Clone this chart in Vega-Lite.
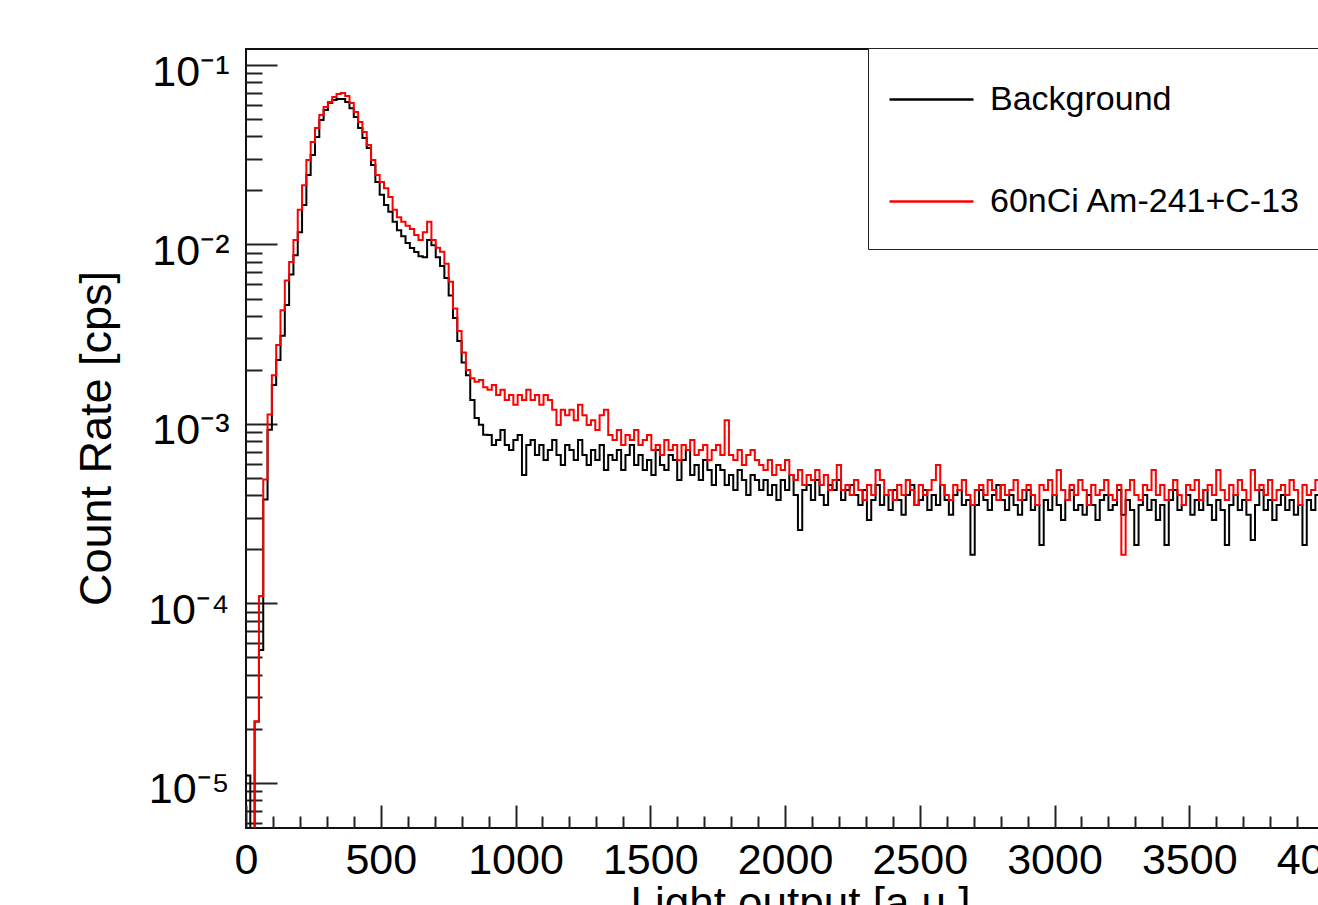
{
  "$schema": "https://vega.github.io/schema/vega-lite/v6.json",
  "width": 1078,
  "height": 779,
  "autosize": {"type": "none"},
  "padding": {"left": 246, "top": 49, "right": -6, "bottom": 77},
  "background": "white",
  "config": {
    "font": "Liberation Sans",
    "view": {"stroke": "#111111", "strokeWidth": 2},
    "axis": {
      "labelFont": "Liberation Sans", "titleFont": "Liberation Sans",
      "labelColor": "black", "titleColor": "black", "tickColor": "#222222",
      "domain": false, "grid": false, "titleFontWeight": "normal",
      "labelFontSize": 43, "titleFontSize": 44, "tickWidth": 2
    }
  },
  "data": {"values": [
{"x":0,"bg":1.1e-5,"src":1e-6},
{"x":16,"bg":1e-6,"src":1e-6},
{"x":32,"bg":2.2e-5,"src":2.2e-5},
{"x":48,"bg":5.5e-5,"src":1.1e-4},
{"x":64,"bg":3.8e-4,"src":4.9e-4},
{"x":80,"bg":9.3e-4,"src":1.13e-3},
{"x":96,"bg":1.65e-3,"src":1.87e-3},
{"x":112,"bg":2.27e-3,"src":2.75e-3},
{"x":128,"bg":3.1e-3,"src":4.3e-3},
{"x":144,"bg":4.6e-3,"src":6.3e-3},
{"x":160,"bg":6.8e-3,"src":8.0e-3},
{"x":176,"bg":8.7e-3,"src":1.06e-2},
{"x":192,"bg":1.17e-2,"src":1.56e-2},
{"x":208,"bg":1.66e-2,"src":2.14e-2},
{"x":224,"bg":2.44e-2,"src":2.96e-2},
{"x":240,"bg":3.15e-2,"src":3.73e-2},
{"x":256,"bg":3.97e-2,"src":4.45e-2},
{"x":272,"bg":4.94e-2,"src":5.27e-2},
{"x":288,"bg":5.61e-2,"src":5.84e-2},
{"x":304,"bg":6.14e-2,"src":6.22e-2},
{"x":320,"bg":6.38e-2,"src":6.63e-2},
{"x":336,"bg":6.46e-2,"src":6.89e-2},
{"x":352,"bg":6.46e-2,"src":6.98e-2},
{"x":368,"bg":6.22e-2,"src":6.72e-2},
{"x":384,"bg":5.75e-2,"src":6.14e-2},
{"x":400,"bg":5.13e-2,"src":5.47e-2},
{"x":416,"bg":4.45e-2,"src":4.81e-2},
{"x":432,"bg":3.92e-2,"src":4.23e-2},
{"x":448,"bg":3.45e-2,"src":3.58e-2},
{"x":464,"bg":2.77e-2,"src":2.96e-2},
{"x":480,"bg":2.23e-2,"src":2.44e-2},
{"x":496,"bg":1.89e-2,"src":2.23e-2},
{"x":512,"bg":1.66e-2,"src":2.06e-2},
{"x":528,"bg":1.52e-2,"src":1.84e-2},
{"x":544,"bg":1.34e-2,"src":1.56e-2},
{"x":560,"bg":1.20e-2,"src":1.42e-2},
{"x":576,"bg":1.11e-2,"src":1.34e-2},
{"x":592,"bg":1.02e-2,"src":1.27e-2},
{"x":608,"bg":9.55e-3,"src":1.22e-2},
{"x":624,"bg":9.08e-3,"src":1.13e-2},
{"x":640,"bg":8.6e-3,"src":1.06e-2},
{"x":656,"bg":8.5e-3,"src":1.17e-2},
{"x":672,"bg":1.06e-2,"src":1.34e-2},
{"x":688,"bg":9.9e-3,"src":1.06e-2},
{"x":704,"bg":8.5e-3,"src":9.6e-3},
{"x":720,"bg":7.6e-3,"src":9.1e-3},
{"x":736,"bg":6.5e-3,"src":7.8e-3},
{"x":752,"bg":5.2e-3,"src":6.2e-3},
{"x":768,"bg":3.9e-3,"src":4.4e-3},
{"x":784,"bg":2.9e-3,"src":3.3e-3},
{"x":800,"bg":2.2e-3,"src":2.5e-3},
{"x":816,"bg":1.87e-3,"src":2.0e-3},
{"x":832,"bg":1.36e-3,"src":1.8e-3},
{"x":848,"bg":1.08e-3,"src":1.72e-3},
{"x":864,"bg":9.9e-4,"src":1.76e-3},
{"x":880,"bg":8.7e-4,"src":1.6e-3},
{"x":896,"bg":8.69e-4,"src":1.55e-3},
{"x":912,"bg":7.64e-4,"src":1.65e-3},
{"x":928,"bg":8.15e-4,"src":1.45e-3},
{"x":944,"bg":9.26e-4,"src":1.55e-3},
{"x":960,"bg":7.64e-4,"src":1.36e-3},
{"x":976,"bg":7.17e-4,"src":1.45e-3},
{"x":992,"bg":8.15e-4,"src":1.28e-3},
{"x":1008,"bg":8.69e-4,"src":1.45e-3},
{"x":1024,"bg":5.20e-4,"src":1.36e-3},
{"x":1040,"bg":7.64e-4,"src":1.55e-3},
{"x":1056,"bg":8.15e-4,"src":1.36e-3},
{"x":1072,"bg":6.72e-4,"src":1.45e-3},
{"x":1088,"bg":7.64e-4,"src":1.28e-3},
{"x":1104,"bg":6.30e-4,"src":1.45e-3},
{"x":1120,"bg":7.17e-4,"src":1.36e-3},
{"x":1136,"bg":8.15e-4,"src":1.20e-3},
{"x":1152,"bg":6.72e-4,"src":9.87e-4},
{"x":1168,"bg":5.91e-4,"src":1.20e-3},
{"x":1184,"bg":7.64e-4,"src":1.12e-3},
{"x":1200,"bg":7.17e-4,"src":1.20e-3},
{"x":1216,"bg":6.30e-4,"src":1.05e-3},
{"x":1232,"bg":8.15e-4,"src":1.28e-3},
{"x":1248,"bg":6.72e-4,"src":1.12e-3},
{"x":1264,"bg":5.91e-4,"src":9.87e-4},
{"x":1280,"bg":7.17e-4,"src":1.05e-3},
{"x":1296,"bg":6.30e-4,"src":9.26e-4},
{"x":1312,"bg":7.64e-4,"src":1.12e-3},
{"x":1328,"bg":5.54e-4,"src":1.20e-3},
{"x":1344,"bg":6.72e-4,"src":8.69e-4},
{"x":1360,"bg":6.30e-4,"src":8.15e-4},
{"x":1376,"bg":7.17e-4,"src":9.26e-4},
{"x":1392,"bg":5.54e-4,"src":7.64e-4},
{"x":1408,"bg":6.72e-4,"src":8.69e-4},
{"x":1424,"bg":7.64e-4,"src":8.15e-4},
{"x":1440,"bg":5.91e-4,"src":9.26e-4},
{"x":1456,"bg":6.72e-4,"src":7.64e-4},
{"x":1472,"bg":5.54e-4,"src":8.15e-4},
{"x":1488,"bg":6.30e-4,"src":8.69e-4},
{"x":1504,"bg":5.20e-4,"src":7.17e-4},
{"x":1520,"bg":7.17e-4,"src":7.64e-4},
{"x":1536,"bg":5.91e-4,"src":6.72e-4},
{"x":1552,"bg":5.54e-4,"src":8.15e-4},
{"x":1568,"bg":6.72e-4,"src":7.17e-4},
{"x":1584,"bg":6.30e-4,"src":7.64e-4},
{"x":1600,"bg":4.88e-4,"src":6.30e-4},
{"x":1616,"bg":6.30e-4,"src":7.64e-4},
{"x":1632,"bg":7.17e-4,"src":7.17e-4},
{"x":1648,"bg":5.20e-4,"src":8.15e-4},
{"x":1664,"bg":5.91e-4,"src":6.72e-4},
{"x":1680,"bg":4.88e-4,"src":7.17e-4},
{"x":1696,"bg":6.30e-4,"src":7.64e-4},
{"x":1712,"bg":5.54e-4,"src":6.30e-4},
{"x":1728,"bg":4.57e-4,"src":7.17e-4},
{"x":1744,"bg":5.91e-4,"src":7.64e-4},
{"x":1760,"bg":5.54e-4,"src":6.72e-4},
{"x":1776,"bg":4.57e-4,"src":1.05e-3},
{"x":1792,"bg":5.20e-4,"src":6.72e-4},
{"x":1808,"bg":4.29e-4,"src":6.30e-4},
{"x":1824,"bg":5.54e-4,"src":7.17e-4},
{"x":1840,"bg":4.88e-4,"src":5.91e-4},
{"x":1856,"bg":4.02e-4,"src":6.72e-4},
{"x":1872,"bg":5.20e-4,"src":7.17e-4},
{"x":1888,"bg":4.88e-4,"src":6.30e-4},
{"x":1904,"bg":4.29e-4,"src":5.91e-4},
{"x":1920,"bg":4.88e-4,"src":5.54e-4},
{"x":1936,"bg":4.02e-4,"src":6.30e-4},
{"x":1952,"bg":4.57e-4,"src":5.20e-4},
{"x":1968,"bg":3.77e-4,"src":5.91e-4},
{"x":1984,"bg":4.88e-4,"src":5.54e-4},
{"x":2000,"bg":4.29e-4,"src":6.30e-4},
{"x":2016,"bg":5.20e-4,"src":5.20e-4},
{"x":2032,"bg":4.02e-4,"src":4.88e-4},
{"x":2048,"bg":2.57e-4,"src":5.54e-4},
{"x":2064,"bg":4.29e-4,"src":4.57e-4},
{"x":2080,"bg":4.57e-4,"src":5.20e-4},
{"x":2096,"bg":3.77e-4,"src":4.88e-4},
{"x":2112,"bg":4.88e-4,"src":5.54e-4},
{"x":2128,"bg":4.02e-4,"src":4.57e-4},
{"x":2144,"bg":3.54e-4,"src":5.20e-4},
{"x":2160,"bg":4.57e-4,"src":4.29e-4},
{"x":2176,"bg":4.29e-4,"src":4.88e-4},
{"x":2192,"bg":4.88e-4,"src":5.91e-4},
{"x":2208,"bg":3.77e-4,"src":4.29e-4},
{"x":2224,"bg":4.29e-4,"src":4.57e-4},
{"x":2240,"bg":4.57e-4,"src":4.02e-4},
{"x":2256,"bg":4.02e-4,"src":4.88e-4},
{"x":2272,"bg":3.54e-4,"src":4.29e-4},
{"x":2288,"bg":4.29e-4,"src":3.77e-4},
{"x":2304,"bg":2.92e-4,"src":4.57e-4},
{"x":2320,"bg":3.77e-4,"src":4.02e-4},
{"x":2336,"bg":4.57e-4,"src":5.54e-4},
{"x":2352,"bg":3.54e-4,"src":4.88e-4},
{"x":2368,"bg":4.02e-4,"src":4.02e-4},
{"x":2384,"bg":3.32e-4,"src":4.29e-4},
{"x":2400,"bg":4.29e-4,"src":3.77e-4},
{"x":2416,"bg":3.77e-4,"src":4.57e-4},
{"x":2432,"bg":3.12e-4,"src":4.02e-4},
{"x":2448,"bg":4.02e-4,"src":4.88e-4},
{"x":2464,"bg":4.57e-4,"src":4.29e-4},
{"x":2480,"bg":3.54e-4,"src":3.54e-4},
{"x":2496,"bg":3.77e-4,"src":4.57e-4},
{"x":2512,"bg":4.29e-4,"src":4.02e-4},
{"x":2528,"bg":3.32e-4,"src":4.29e-4},
{"x":2544,"bg":4.02e-4,"src":4.88e-4},
{"x":2560,"bg":3.54e-4,"src":5.91e-4},
{"x":2576,"bg":4.57e-4,"src":4.57e-4},
{"x":2592,"bg":3.77e-4,"src":4.02e-4},
{"x":2608,"bg":3.12e-4,"src":3.77e-4},
{"x":2624,"bg":4.02e-4,"src":4.57e-4},
{"x":2640,"bg":4.29e-4,"src":4.29e-4},
{"x":2656,"bg":3.54e-4,"src":4.88e-4},
{"x":2672,"bg":3.77e-4,"src":4.02e-4},
{"x":2688,"bg":1.87e-4,"src":3.54e-4},
{"x":2704,"bg":3.54e-4,"src":4.29e-4},
{"x":2720,"bg":4.29e-4,"src":4.57e-4},
{"x":2736,"bg":3.77e-4,"src":4.02e-4},
{"x":2752,"bg":3.32e-4,"src":4.88e-4},
{"x":2768,"bg":4.02e-4,"src":4.29e-4},
{"x":2784,"bg":4.57e-4,"src":3.77e-4},
{"x":2800,"bg":3.77e-4,"src":4.57e-4},
{"x":2816,"bg":3.32e-4,"src":4.02e-4},
{"x":2832,"bg":4.02e-4,"src":4.29e-4},
{"x":2848,"bg":3.54e-4,"src":4.88e-4},
{"x":2864,"bg":3.12e-4,"src":3.77e-4},
{"x":2880,"bg":3.77e-4,"src":4.29e-4},
{"x":2896,"bg":4.29e-4,"src":4.57e-4},
{"x":2912,"bg":3.32e-4,"src":4.02e-4},
{"x":2928,"bg":3.54e-4,"src":3.54e-4},
{"x":2944,"bg":2.12e-4,"src":4.57e-4},
{"x":2960,"bg":3.77e-4,"src":4.29e-4},
{"x":2976,"bg":3.32e-4,"src":4.88e-4},
{"x":2992,"bg":4.02e-4,"src":4.02e-4},
{"x":3008,"bg":3.54e-4,"src":5.54e-4},
{"x":3024,"bg":2.92e-4,"src":4.29e-4},
{"x":3040,"bg":3.77e-4,"src":3.77e-4},
{"x":3056,"bg":4.29e-4,"src":4.57e-4},
{"x":3072,"bg":3.32e-4,"src":4.02e-4},
{"x":3088,"bg":3.54e-4,"src":4.88e-4},
{"x":3104,"bg":3.12e-4,"src":4.29e-4},
{"x":3120,"bg":4.02e-4,"src":3.54e-4},
{"x":3136,"bg":3.54e-4,"src":4.57e-4},
{"x":3152,"bg":2.92e-4,"src":4.02e-4},
{"x":3168,"bg":3.77e-4,"src":4.29e-4},
{"x":3184,"bg":4.02e-4,"src":4.88e-4},
{"x":3200,"bg":3.32e-4,"src":4.02e-4},
{"x":3216,"bg":3.54e-4,"src":3.77e-4},
{"x":3232,"bg":4.29e-4,"src":4.57e-4},
{"x":3248,"bg":3.12e-4,"src":1.87e-4},
{"x":3264,"bg":3.77e-4,"src":4.29e-4},
{"x":3280,"bg":3.32e-4,"src":4.88e-4},
{"x":3296,"bg":2.12e-4,"src":4.02e-4},
{"x":3312,"bg":3.54e-4,"src":3.77e-4},
{"x":3328,"bg":4.02e-4,"src":4.57e-4},
{"x":3344,"bg":3.32e-4,"src":4.29e-4},
{"x":3360,"bg":3.77e-4,"src":5.54e-4},
{"x":3376,"bg":2.92e-4,"src":4.02e-4},
{"x":3392,"bg":3.54e-4,"src":4.57e-4},
{"x":3408,"bg":2.12e-4,"src":3.77e-4},
{"x":3424,"bg":3.77e-4,"src":4.29e-4},
{"x":3440,"bg":4.29e-4,"src":4.88e-4},
{"x":3456,"bg":3.32e-4,"src":4.02e-4},
{"x":3472,"bg":3.54e-4,"src":3.54e-4},
{"x":3488,"bg":4.02e-4,"src":4.57e-4},
{"x":3504,"bg":3.12e-4,"src":4.29e-4},
{"x":3520,"bg":3.77e-4,"src":4.88e-4},
{"x":3536,"bg":3.32e-4,"src":3.77e-4},
{"x":3552,"bg":4.29e-4,"src":4.29e-4},
{"x":3568,"bg":3.54e-4,"src":4.57e-4},
{"x":3584,"bg":2.92e-4,"src":4.02e-4},
{"x":3600,"bg":3.77e-4,"src":5.54e-4},
{"x":3616,"bg":3.32e-4,"src":4.29e-4},
{"x":3632,"bg":2.12e-4,"src":3.77e-4},
{"x":3648,"bg":3.54e-4,"src":4.57e-4},
{"x":3664,"bg":4.02e-4,"src":4.02e-4},
{"x":3680,"bg":3.32e-4,"src":4.88e-4},
{"x":3696,"bg":3.77e-4,"src":4.29e-4},
{"x":3712,"bg":3.12e-4,"src":3.77e-4},
{"x":3728,"bg":2.26e-4,"src":5.54e-4},
{"x":3744,"bg":3.54e-4,"src":4.29e-4},
{"x":3760,"bg":4.29e-4,"src":4.57e-4},
{"x":3776,"bg":3.32e-4,"src":4.02e-4},
{"x":3792,"bg":3.77e-4,"src":4.88e-4},
{"x":3808,"bg":2.92e-4,"src":3.77e-4},
{"x":3824,"bg":3.54e-4,"src":4.29e-4},
{"x":3840,"bg":4.02e-4,"src":4.57e-4},
{"x":3856,"bg":3.32e-4,"src":4.02e-4},
{"x":3872,"bg":3.77e-4,"src":4.88e-4},
{"x":3888,"bg":3.12e-4,"src":4.29e-4},
{"x":3904,"bg":3.54e-4,"src":3.54e-4},
{"x":3920,"bg":2.12e-4,"src":4.57e-4},
{"x":3936,"bg":3.77e-4,"src":4.02e-4},
{"x":3952,"bg":3.32e-4,"src":4.29e-4},
{"x":3968,"bg":4.02e-4,"src":4.88e-4},
{"x":3984,"bg":3.54e-4,"src":4.29e-4},
{"x":4000,"bg":3.54e-4,"src":4.29e-4}
  ]},
  "transform": [{"fold": ["bg", "src"], "as": ["series", "rate"]}],
  "resolve": {"axis": {"x": "independent", "y": "independent"}},
  "layer": [
    {
      "mark": {"type": "line", "interpolate": "step-after", "strokeWidth": 2, "clip": true},
      "encoding": {
        "x": {
          "field": "x", "type": "quantitative",
          "scale": {"domain": [0, 4000], "nice": false, "zero": false},
          "axis": {
            "orient": "bottom",
            "values": [0, 500, 1000, 1500, 2000, 2500, 3000, 3500, 4000],
            "format": "d", "tickSize": -23, "labelPadding": 34,
            "labelFlush": false, "labelOverlap": false, "labelBound": false,
            "title": "Light output [a.u.]",
            "titleX": 554, "titleY": 89, "titleAlign": "center", "titleBaseline": "alphabetic"
          }
        },
        "y": {
          "field": "rate", "type": "quantitative",
          "scale": {"type": "log", "domain": [5.61e-6, 0.1228], "nice": false},
          "axis": {
            "orient": "left",
            "values": [0.1, 0.01, 0.001, 0.0001, 0.00001],
            "tickSize": -31, "labelPadding": 48,
            "labelExpr": "'10⁻' + ['', '¹', '²', '³', '⁴', '⁵'][round(-log(datum.value) / LN10)]",
            "labelBaseline": "alphabetic", "labelOffset": 20,
            "labelOverlap": false, "labelBound": false, "labelFlush": false,
            "title": "Count Rate [cps]", "titleFontSize": 45,
            "titleAngle": -90, "titleX": -136, "titleY": 389,
            "titleAlign": "center", "titleBaseline": "alphabetic"
          }
        },
        "color": {
          "field": "series", "type": "nominal",
          "scale": {"domain": ["bg", "src"], "range": ["#000000", "#ff0000"]},
          "legend": {
            "title": null, "orient": "none", "legendX": 622, "legendY": -1,
            "symbolType": "M-1,0H1M9.5,0.81", "symbolSize": 7056, "symbolStrokeWidth": 2.5,
            "symbolOffset": 12, "labelOffset": 15, "labelFontSize": 34,
            "labelFont": "Liberation Sans", "labelColor": "black", "labelLimit": 600,
            "rowPadding": 19, "padding": 8, "strokeColor": "#222222", "fillColor": "white",
            "labelExpr": "datum.value == 'bg' ? 'Background' : '60nCi Am-241+C-13'"
          }
        }
      }
    },
    {
      "mark": {"type": "line", "strokeOpacity": 0, "clip": true},
      "encoding": {
        "x": {
          "field": "x", "type": "quantitative",
          "scale": {"domain": [0, 4000], "nice": false, "zero": false},
          "axis": {
            "orient": "bottom",
            "values": [100,200,300,400,600,700,800,900,1100,1200,1300,1400,1600,1700,1800,1900,2100,2200,2300,2400,2600,2700,2800,2900,3100,3200,3300,3400,3600,3700,3800,3900],
            "tickSize": -12, "labels": false, "title": null, "domain": false
          }
        },
        "y": {
          "field": "rate", "type": "quantitative",
          "scale": {"type": "log", "domain": [5.61e-6, 0.1228], "nice": false},
          "axis": {
            "orient": "left",
            "values": [6e-6,7e-6,8e-6,9e-6,2e-5,3e-5,4e-5,5e-5,6e-5,7e-5,8e-5,9e-5,2e-4,3e-4,4e-4,5e-4,6e-4,7e-4,8e-4,9e-4,2e-3,3e-3,4e-3,5e-3,6e-3,7e-3,8e-3,9e-3,2e-2,3e-2,4e-2,5e-2,6e-2,7e-2,8e-2,9e-2],
            "tickSize": -16, "labels": false, "title": null, "domain": false
          }
        }
      }
    }
  ]
}
